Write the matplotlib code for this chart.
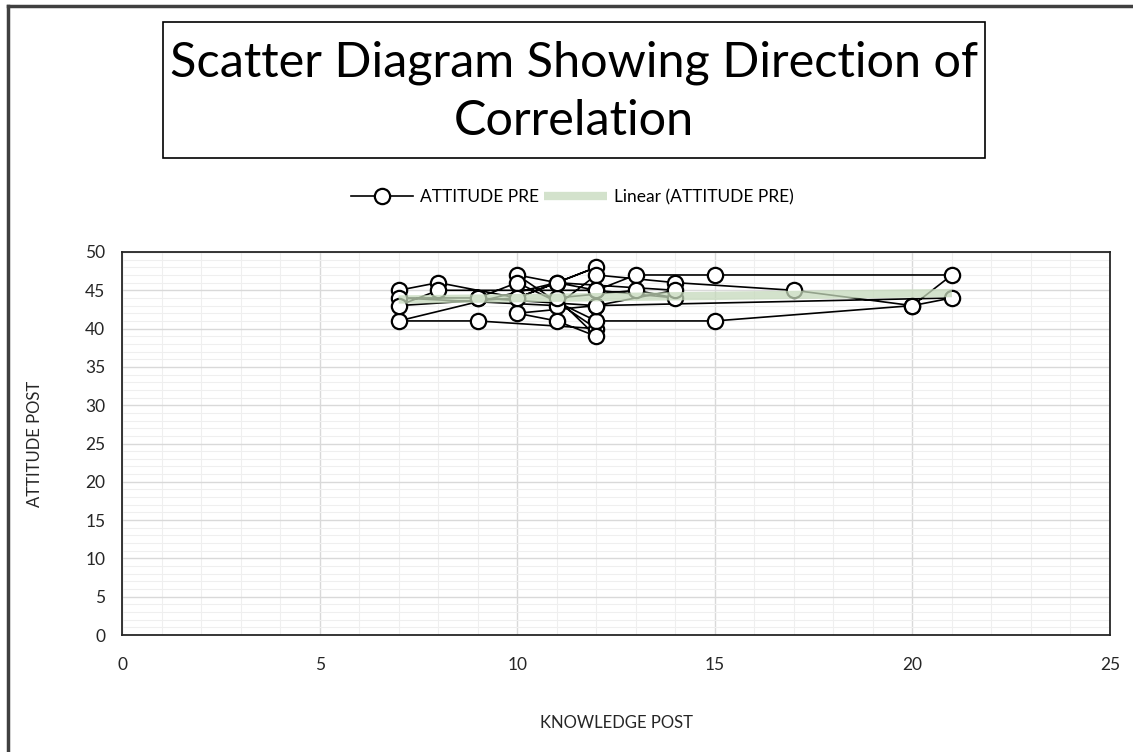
import numpy as np
import matplotlib
matplotlib.use("Agg")
import matplotlib.pyplot as plt
from matplotlib.patches import Rectangle
from matplotlib.lines import Line2D
from matplotlib.ticker import MultipleLocator

plt.rcParams['font.family'] = ['Lato', 'DejaVu Sans']

# knowledge post (x) vs attitude post (y), in the order the points are joined
knowledge_post = [7, 8, 10, 12, 11, 7, 9, 12, 10, 12, 13, 15, 21, 20, 17, 14, 12, 11, 7, 9,
                  10, 12, 15, 20, 21, 12, 10, 11, 12, 11, 13, 14, 12, 8, 7, 10, 11, 14, 12, 9]
attitude_post = [45, 46, 44, 48, 46, 41, 41, 40, 47, 45, 47, 47, 47, 43, 45, 46, 47, 43, 44, 44,
                 46, 41, 41, 43, 44, 43, 42, 41, 39, 44, 45, 44, 45, 45, 43, 44, 46, 45, 43, 44]

x = np.array(knowledge_post)
y = np.array(attitude_post)

fig = plt.figure(figsize=(11.33, 7.52), dpi=100)

# outer chart frame (left and top edges visible)
fig.add_artist(Line2D([8/1133, 8/1133], [0, 1 - 6/752], transform=fig.transFigure, color='#404040', lw=2.5))
fig.add_artist(Line2D([8/1133, 1], [1 - 6/752, 1 - 6/752], transform=fig.transFigure, color='#404040', lw=2.5))

# title in a box
fig.add_artist(Rectangle((163/1133, 1 - 158/752), 822/1133, 136/752, transform=fig.transFigure,
                         fill=False, edgecolor='black', lw=1.2))
fig.text(574/1133, 1 - 92/752, "Scatter Diagram Showing Direction of\nCorrelation",
         ha='center', va='center', fontsize=35, linespacing=1.4)

ax = fig.add_axes([122/1133, 1 - 635/752, 988/1133, 383/752])

ax.plot(x, y, color='black', lw=1.2, marker='o', markersize=11,
        markerfacecolor='white', markeredgecolor='black', markeredgewidth=1.6,
        label='ATTITUDE PRE', zorder=3)

slope, intercept = np.polyfit(x, y, 1)
xt = np.array([x.min(), x.max()])
ax.plot(xt, slope * xt + intercept, color='#c5d9bb', lw=6, alpha=0.75,
        label='Linear (ATTITUDE PRE)', zorder=4, solid_capstyle='butt')

ax.set_xlim(0, 25)
ax.set_ylim(0, 50)
ax.xaxis.set_major_locator(MultipleLocator(5))
ax.yaxis.set_major_locator(MultipleLocator(5))
ax.xaxis.set_minor_locator(MultipleLocator(1))
ax.yaxis.set_minor_locator(MultipleLocator(1))
ax.grid(which='major', color='#d9d9d9', lw=1)
ax.grid(which='minor', color='#efefef', lw=0.8)
ax.set_axisbelow(True)
ax.tick_params(which='both', length=0, labelsize=12.5, colors='#262626')
ax.tick_params(axis='y', pad=12)
ax.tick_params(axis='x', pad=16)
for s in ax.spines.values():
    s.set_color('#262626')
    s.set_linewidth(1.3)

ax.set_xlabel('KNOWLEDGE POST', fontsize=12, labelpad=30, color='#262626')
ax.set_ylabel('ATTITUDE POST', fontsize=12, labelpad=30, color='#262626')

fig.legend(loc='center', bbox_to_anchor=(572/1133, 1 - 197/752), ncol=2, frameon=False,
           fontsize=12.5, handlelength=3.6, columnspacing=0.3, handletextpad=0.4)

fig.savefig('out.png', dpi=100)
